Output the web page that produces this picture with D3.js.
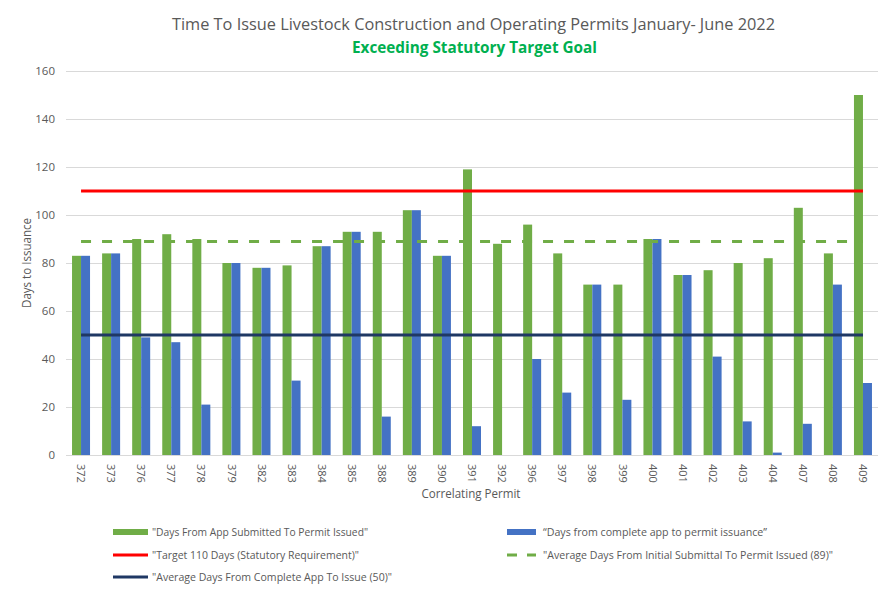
<!DOCTYPE html>
<html>
<head>
<meta charset="utf-8">
<script src="https://cdn.jsdelivr.net/npm/d3@7"></script>
<style>
  html, body { margin: 0; padding: 0; background: #fff; }
  svg { display: block; font-family: "Open Sans", "Noto Sans", sans-serif; }
</style>
</head>
<body>
<svg id="chart" width="892" height="592"></svg>
<script>
const categories = ["372","373","376","377","378","379","382","383","384","385","388","389","390","391","392","396","397","398","399","400","401","402","403","404","407","408","409"];
const daysSubmitted = [83,84,90,92,90,80,78,79,87,93,93,102,83,119,88,96,84,71,71,90,75,77,80,82,103,84,150];
const daysComplete  = [83,84,49,47,21,80,78,31,87,93,16,102,83,12,0,40,26,71,23,90,75,41,14,1,13,71,30];
const targetDays = 110;
const avgSubmitted = 89;
const avgComplete = 50;
const yTicks = [0,20,40,60,80,100,120,140,160];
const legendLabels = [
  "\"Days From App Submitted To Permit Issued\"",
  "\u201CDays from complete app to permit issuance\u201D",
  "\"Target 110 Days (Statutory Requirement)\"",
  "\"Average Days From Initial Submittal To Permit Issued (89)\"",
  "\"Average Days From Complete App To Issue (50)\""
];

const svg = d3.select("#chart");
const textColor = "#595959";
const green = "#70AD47", blue = "#4472C4", red = "#FF0000", navy = "#1F3864";

const x = d3.scaleBand().domain(categories).range([66, 878]);
const y = d3.scaleLinear().domain([0, 160]).range([455, 71]);
const barW = 9;

// Gridlines
svg.append("g").selectAll("line").data(yTicks).join("line")
  .attr("x1", 66).attr("x2", 878)
  .attr("y1", d => Math.round(y(d)) + 0.5).attr("y2", d => Math.round(y(d)) + 0.5)
  .attr("stroke", "#D9D9D9").attr("stroke-width", 1);

// Y tick labels
svg.append("g").selectAll("text").data(yTicks).join("text")
  .attr("x", 55).attr("y", d => y(d)).attr("dy", "0.35em")
  .attr("text-anchor", "end").attr("font-size", 11.5).attr("fill", textColor)
  .text(d => d);

// Bars
const bars = svg.append("g");
bars.selectAll("rect.g").data(categories).join("rect")
  .attr("x", d => x(d) + x.bandwidth() / 2 - barW)
  .attr("width", barW)
  .attr("y", (d, i) => y(daysSubmitted[i]))
  .attr("height", (d, i) => y(0) - y(daysSubmitted[i]))
  .attr("fill", green);
bars.selectAll("rect.b").data(categories).join("rect")
  .attr("x", d => x(d) + x.bandwidth() / 2)
  .attr("width", barW)
  .attr("y", (d, i) => y(daysComplete[i]))
  .attr("height", (d, i) => y(0) - y(daysComplete[i]))
  .attr("fill", blue);

// Reference lines
const xStart = x(categories[0]) + x.bandwidth() / 2;
const xEnd = x(categories[categories.length - 1]) + x.bandwidth() / 2;
svg.append("line").attr("x1", xStart).attr("x2", xEnd)
  .attr("y1", y(targetDays)).attr("y2", y(targetDays))
  .attr("stroke", red).attr("stroke-width", 3);
svg.append("line").attr("x1", xStart).attr("x2", xEnd)
  .attr("y1", y(avgSubmitted)).attr("y2", y(avgSubmitted))
  .attr("stroke", green).attr("stroke-width", 3).attr("stroke-dasharray", "10,11");
svg.append("line").attr("x1", xStart).attr("x2", xEnd)
  .attr("y1", y(avgComplete)).attr("y2", y(avgComplete))
  .attr("stroke", navy).attr("stroke-width", 3);

// X tick labels (rotated)
svg.append("g").selectAll("text").data(categories).join("text")
  .attr("transform", d => `translate(${x(d) + x.bandwidth() / 2},464) rotate(90)`)
  .attr("dy", "0.35em").attr("text-anchor", "start")
  .attr("font-size", 11).attr("fill", textColor)
  .text(d => d);

// Axis titles
svg.append("text").attr("transform", "translate(31,263) rotate(-90)")
  .attr("text-anchor", "middle").attr("font-size", 12).attr("fill", textColor)
  .attr("textLength", 90).attr("lengthAdjust", "spacingAndGlyphs")
  .text("Days to Issuance");
svg.append("text").attr("x", 471).attr("y", 498)
  .attr("text-anchor", "middle").attr("font-size", 12.5).attr("fill", textColor)
  .attr("textLength", 99).attr("lengthAdjust", "spacingAndGlyphs")
  .text("Correlating Permit");

// Titles
svg.append("text").attr("x", 172).attr("y", 30)
  .attr("font-size", 17).attr("fill", textColor)
  .attr("textLength", 603).attr("lengthAdjust", "spacingAndGlyphs")
  .text("Time To Issue Livestock Construction and Operating Permits January- June 2022");
svg.append("text").attr("x", 352).attr("y", 53)
  .attr("font-size", 16.5).attr("font-weight", "bold").attr("fill", "#00B050")
  .attr("textLength", 245).attr("lengthAdjust", "spacingAndGlyphs")
  .text("Exceeding Statutory Target Goal");

// Legend
const legend = [
  {label: legendLabels[0], x: 113, y: 532, type: "rect", color: green, len: 216},
  {label: legendLabels[1], x: 507, y: 532, type: "rect", color: blue, len: 224},
  {label: legendLabels[2], x: 113, y: 555, type: "line", color: red, len: 207},
  {label: legendLabels[3], x: 507, y: 555, type: "dash", color: green, len: 290},
  {label: legendLabels[4], x: 113, y: 577, type: "line", color: navy, len: 240}
];
const lg = svg.append("g").selectAll("g").data(legend).join("g")
  .attr("transform", d => `translate(${d.x},${d.y})`);
lg.each(function(d) {
  const g = d3.select(this);
  if (d.type === "rect") {
    g.append("rect").attr("x", 0).attr("y", -3).attr("width", d.x < 300 ? 35 : 29).attr("height", 6).attr("fill", d.color);
  } else if (d.type === "line") {
    g.append("line").attr("x1", 0).attr("x2", 35).attr("y1", 0).attr("y2", 0)
      .attr("stroke", d.color).attr("stroke-width", 3);
  } else {
    g.append("line").attr("x1", 0).attr("x2", 29).attr("y1", 0).attr("y2", 0)
      .attr("stroke", d.color).attr("stroke-width", 3).attr("stroke-dasharray", "10,10");
  }
  g.append("text").attr("x", d.x < 300 ? 39 : 36).attr("y", 0).attr("dy", "0.35em")
    .attr("font-size", 11).attr("fill", textColor)
    .attr("textLength", d.len).attr("lengthAdjust", "spacingAndGlyphs")
    .text(d.label);
});
</script>
</body>
</html>
